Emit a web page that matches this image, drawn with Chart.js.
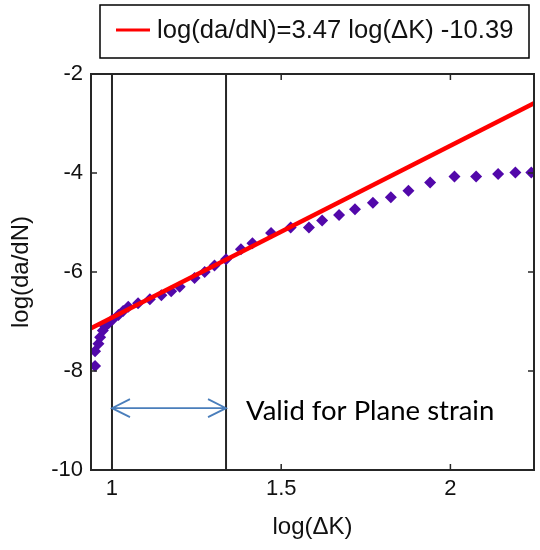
<!DOCTYPE html>
<html>
<head>
<meta charset="utf-8">
<script src="https://cdn.jsdelivr.net/npm/chart.js@4/dist/chart.umd.min.js"></script>
<style>
html,body{margin:0;padding:0;background:#fff;}
canvas{display:block;}
</style>
</head>
<body>
<canvas id="c" width="540" height="550"></canvas>
<script>
// ---- data ----
const logDK = [0.95, 0.95, 0.96, 0.965, 0.973, 0.98, 0.99, 1.002, 1.019, 1.033, 1.048, 1.077, 1.112, 1.146, 1.175, 1.2, 1.244, 1.274, 1.303, 1.337, 1.381, 1.415, 1.47, 1.528, 1.582, 1.621, 1.671, 1.718, 1.771, 1.824, 1.876, 1.94, 2.012, 2.076, 2.141, 2.192, 2.239];
const logDadN = [-7.90, -7.60, -7.45, -7.32, -7.18, -7.10, -7.03, -6.96, -6.87, -6.79, -6.70, -6.63, -6.55, -6.47, -6.39, -6.30, -6.12, -6.00, -5.87, -5.74, -5.54, -5.42, -5.21, -5.10, -5.10, -4.96, -4.85, -4.73, -4.60, -4.49, -4.36, -4.19, -4.07, -4.07, -4.02, -3.99, -3.99];
const fitSlope = 3.47;
const fitIntercept = -10.39;
const fitLabel = 'log(da/dN)=3.47 log(\u0394K) -10.39';
const xRange = [0.938, 2.247];
const yRange = [-10, -2];
const xTickValues = [1, 1.5, 2];
const yTickValues = [-10, -8, -6, -4, -2];
const planeStrainX = [1, 1.337];
const arrowY = -8.75;
const annotationText = 'Valid for Plane strain';
const xTitle = 'log(\u0394K)';
const yTitle = 'log(da/dN)';

// ---- build datasets ----
const points = logDK.map((x, i) => ({x: x, y: logDadN[i]}));
const fitData = xRange.map(x => ({x: x, y: fitSlope * x + fitIntercept}));
const vLine = x => yRange.map(y => ({x: x, y: y}));

const frameColor = '#262626';
const sansFont = '"Liberation Sans", Arial, sans-serif';

const decorPlugin = {
  id: 'decor',
  afterDraw(chart) {
    const {ctx, chartArea: a, scales: {x: xs, y: ys}} = chart;
    ctx.save();
    // frame
    ctx.strokeStyle = frameColor;
    ctx.lineWidth = 2;
    ctx.strokeRect(a.left, a.top, a.right - a.left, a.bottom - a.top);
    // inward ticks
    ctx.lineWidth = 1.5;
    const tl = 6;
    ctx.beginPath();
    xTickValues.forEach(v => {
      const px = xs.getPixelForValue(v);
      ctx.moveTo(px, a.bottom); ctx.lineTo(px, a.bottom - tl);
      ctx.moveTo(px, a.top); ctx.lineTo(px, a.top + tl);
    });
    yTickValues.forEach(v => {
      const py = ys.getPixelForValue(v);
      ctx.moveTo(a.left, py); ctx.lineTo(a.left + tl, py);
      ctx.moveTo(a.right, py); ctx.lineTo(a.right - tl, py);
    });
    ctx.stroke();

    // double arrow
    const x1 = xs.getPixelForValue(planeStrainX[0]);
    const x2 = xs.getPixelForValue(planeStrainX[1]);
    const ay = ys.getPixelForValue(arrowY);
    ctx.strokeStyle = '#4a7ebb';
    ctx.lineWidth = 1.8;
    ctx.beginPath();
    ctx.moveTo(x1, ay); ctx.lineTo(x2, ay);
    ctx.moveTo(x1 + 18, ay - 9); ctx.lineTo(x1, ay); ctx.lineTo(x1 + 18, ay + 9);
    ctx.moveTo(x2 - 18, ay - 9); ctx.lineTo(x2, ay); ctx.lineTo(x2 - 18, ay + 9);
    ctx.stroke();

    // annotation text
    ctx.fillStyle = '#000';
    ctx.font = '27.5px Lato, "Open Sans", sans-serif';
    ctx.textAlign = 'left';
    ctx.textBaseline = 'alphabetic';
    ctx.fillText(annotationText, x2 + 20, ay + 12);

    // legend box
    ctx.strokeStyle = '#000';
    ctx.lineWidth = 1.5;
    ctx.fillStyle = '#fff';
    ctx.fillRect(100, 5, 429, 53);
    ctx.strokeRect(100, 5, 429, 53);
    ctx.strokeStyle = '#ff0000';
    ctx.lineWidth = 3;
    ctx.beginPath();
    ctx.moveTo(116, 30); ctx.lineTo(150, 30);
    ctx.stroke();
    ctx.fillStyle = '#111';
    ctx.font = '25.6px ' + sansFont;
    ctx.textBaseline = 'middle';
    ctx.fillText(fitLabel, 157, 31);
    ctx.restore();
  }
};

new Chart(document.getElementById('c'), {
  type: 'scatter',
  data: {
    datasets: [
      {
        type: 'line', label: fitLabel, data: fitData,
        borderColor: '#ff0000', borderWidth: 4.5, pointRadius: 0, fill: false, tension: 0
      },
      {
        label: 'data', data: points,
        pointStyle: 'rectRot', pointRadius: 6, backgroundColor: '#5208aa', borderWidth: 0
      },
      {
        type: 'line', label: 'v1', data: vLine(planeStrainX[0]),
        borderColor: frameColor, borderWidth: 2, pointRadius: 0, fill: false
      },
      {
        type: 'line', label: 'v2', data: vLine(planeStrainX[1]),
        borderColor: frameColor, borderWidth: 2, pointRadius: 0, fill: false
      }
    ]
  },
  options: {
    responsive: false,
    animation: false,
    devicePixelRatio: 1,
    layout: {padding: {top: 74, right: 4, left: 0, bottom: 0}},
    plugins: {legend: {display: false}, tooltip: {enabled: false}},
    scales: {
      x: {
        type: 'linear', min: xRange[0], max: xRange[1],
        grid: {display: false, drawTicks: false}, border: {display: false},
        afterBuildTicks: s => { s.ticks = xTickValues.map(v => ({value: v})); },
        afterFit: s => { s.height = 80; },
        ticks: {
          font: {family: sansFont, size: 22},
          color: '#111', padding: 6, maxRotation: 0,
          callback: v => String(v)
        },
        title: {
          display: true, text: xTitle, color: '#111',
          font: {family: sansFont, size: 24},
          padding: {top: 4, bottom: 8}
        }
      },
      y: {
        type: 'linear', min: yRange[0], max: yRange[1],
        grid: {display: false, drawTicks: false}, border: {display: false},
        afterBuildTicks: s => { s.ticks = yTickValues.map(v => ({value: v})); },
        afterFit: s => { s.width = 91; },
        ticks: {
          font: {family: sansFont, size: 22},
          color: '#111', padding: 8,
          callback: v => String(v)
        },
        title: {
          display: true, text: yTitle, color: '#111',
          font: {family: sansFont, size: 24},
          padding: {top: 7, bottom: 4}
        }
      }
    }
  },
  plugins: [decorPlugin]
});
</script>
</body>
</html>
